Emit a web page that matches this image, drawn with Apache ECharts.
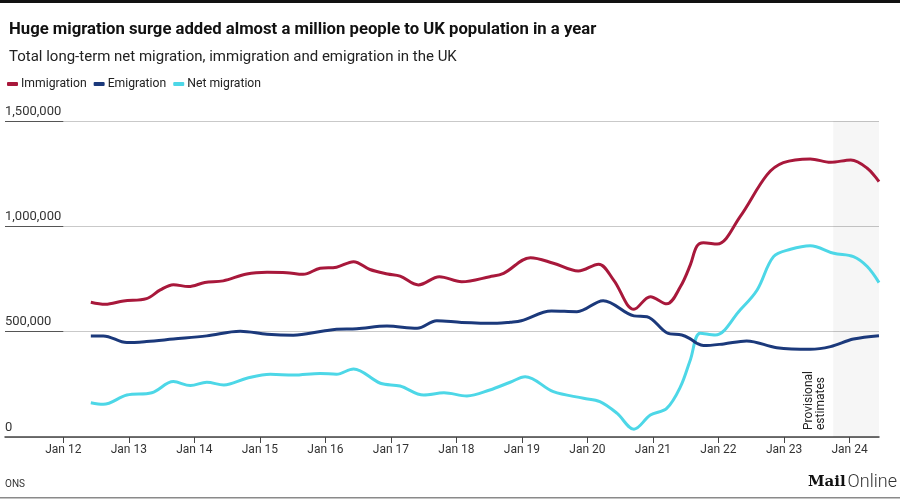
<!DOCTYPE html>
<html>
<head>
<meta charset="utf-8">
<script src="https://cdn.jsdelivr.net/npm/echarts@6/dist/echarts.min.js"></script>
<style>
  html, body { margin: 0; padding: 0; background: #fff; }
  #chart { width: 900px; height: 500px; }
</style>
</head>
<body>
<div id="chart"></div>
<script>
// ---- Data (values in thousands, x as decimal year) ----
const immigration = [
  [2012.42,640],[2012.64,630],[2012.92,646],[2013.27,657],[2013.48,698],[2013.68,723],[2013.91,714],
  [2014.16,733],[2014.44,741],[2014.80,774],[2015.11,782],[2015.41,780],[2015.66,772],[2015.92,801],
  [2016.17,806],[2016.43,832],[2016.68,795],[2016.95,774],[2017.14,764],[2017.42,722],[2017.74,761],
  [2018.08,737],[2018.51,761],[2018.72,777],[2019.13,851],[2019.48,825],[2019.86,788],[2020.17,820],
  [2020.40,745],[2020.71,606],[2020.96,666],[2021.21,632],[2021.42,714],[2021.57,817],[2021.67,905],
  [2021.77,922],[2021.98,916],[2022.33,1046],[2022.74,1244],[2022.99,1302],[2023.40,1320],[2023.71,1304],
  [2024.02,1315],[2024.27,1276],[2024.45,1212]
];
const emigration = [
  [2012.42,480],[2012.61,480],[2012.97,448],[2013.27,453],[2013.68,465],[2014.19,480],[2014.70,502],
  [2015.11,488],[2015.51,483],[2015.97,503],[2016.17,511],[2016.48,514],[2016.94,527],[2017.40,516],
  [2017.70,552],[2018.08,544],[2018.62,540],[2018.82,545],[2018.99,552],[2019.45,598],[2019.84,595],
  [2020.24,647],[2020.71,575],[2020.91,571],[2021.21,495],[2021.44,484],[2021.57,466],[2021.67,445],
  [2021.77,434],[2022.08,442],[2022.43,456],[2022.89,424],[2023.40,416],[2023.71,429],[2024.06,465],
  [2024.45,481]
];
const netMigration = [
  [2012.42,163],[2012.61,155],[2012.97,199],[2013.35,210],[2013.68,263],[2013.94,244],[2014.19,260],
  [2014.45,247],[2014.80,279],[2015.16,298],[2015.51,294],[2015.92,302],[2016.17,298],[2016.43,323],
  [2016.84,255],[2017.14,242],[2017.50,199],[2017.81,210],[2018.16,195],[2018.51,223],[2018.82,260],
  [2019.05,286],[2019.48,215],[2019.94,184],[2020.19,168],[2020.45,113],[2020.71,37],[2020.96,104],
  [2021.21,136],[2021.42,239],[2021.57,366],[2021.72,492],[2021.95,484],[2022.33,603],[2022.59,698],
  [2022.84,856],[2023.10,891],[2023.40,908],[2023.76,872],[2024.06,856],[2024.27,809],[2024.45,733]
];
const seriesNames = ['Immigration', 'Emigration', 'Net migration'];
const xTickYears = [2012,2013,2014,2015,2016,2017,2018,2019,2020,2021,2022,2023,2024];
const yTicks = [0, 500000, 1000000, 1500000];
const xMin = 2011.11, xMax = 2024.45;
const provisionalStart = 2023.75;

const colors = ['#a8183b', '#1b397b', '#4dd7e7'];
const toPairs = arr => arr.map(p => [p[0], p[1] * 1000]);
const fmt = v => v === 0 ? '0' : v.toLocaleString('en-GB');

const chart = echarts.init(document.getElementById('chart'), null, { renderer: 'canvas' });

const underline = yTicks.filter(v => v > 0).map(v => [
  { coord: [xMin, v] }, { coord: [xTickYears[0], v] }
]);

const option = {
  animation: false,
  backgroundColor: '#fff',
  textStyle: { fontFamily: 'Roboto' },
  title: [
    { text: 'Huge migration surge added almost a million people to UK population in a year',
      left: 4, top: 16,
      textStyle: { fontFamily: 'Roboto', fontSize: 16.7, fontWeight: 'bold', color: '#111' } },
    { text: 'Total long-term net migration, immigration and emigration in the UK',
      left: 4, top: 45,
      textStyle: { fontFamily: 'Roboto', fontSize: 15, fontWeight: 'normal', color: '#222' } }
  ],
  legend: {
    left: 2, top: 73,
    itemWidth: 11, itemHeight: 4, itemGap: 7,
    icon: 'roundRect',
    textStyle: { fontFamily: 'Roboto', fontSize: 12.2, color: '#222', padding: [0, 0, 0, -2] },
    data: seriesNames
  },
  grid: { left: 5, right: 21, top: 121, bottom: 63, containLabel: false },
  xAxis: {
    type: 'value', min: xMin, max: xMax,
    axisLine: { show: true, lineStyle: { color: '#444', width: 1.5 } },
    axisTick: { show: true, customValues: xTickYears, length: 6, lineStyle: { color: '#444', width: 1 } },
    axisLabel: { customValues: xTickYears, margin: 7, fontSize: 12, color: '#333', fontFamily: 'Roboto',
      formatter: v => 'Jan ' + String(Math.round(v)).slice(2) },
    splitLine: { show: false }
  },
  yAxis: {
    type: 'value', min: 0, max: 1500000, interval: 500000,
    axisLine: { show: false }, axisTick: { show: false },
    axisLabel: { inside: true, margin: 0, verticalAlign: 'bottom', align: 'left',
      padding: [0, 0, 3, 0], fontSize: 13, color: '#333', fontFamily: 'Roboto', formatter: fmt },
    splitLine: { show: true, lineStyle: { color: '#c9c9c9', width: 1 } }
  },
  series: [
    { name: seriesNames[0], type: 'line', data: toPairs(immigration), smooth: 0.35, showSymbol: false,
      lineStyle: { width: 3, color: colors[0] }, itemStyle: { color: colors[0] }, z: 4,
      markArea: { silent: true, itemStyle: { color: 'rgba(0,0,0,0.035)' },
        data: [[{ xAxis: provisionalStart, yAxis: 0 }, { xAxis: xMax, yAxis: 1500000 }]] },
      markLine: { silent: true, symbol: 'none', label: { show: false },
        lineStyle: { color: '#555', width: 1, type: 'solid' }, data: underline } },
    { name: seriesNames[1], type: 'line', data: toPairs(emigration), smooth: 0.35, showSymbol: false,
      lineStyle: { width: 3, color: colors[1] }, itemStyle: { color: colors[1] }, z: 3 },
    { name: seriesNames[2], type: 'line', data: toPairs(netMigration), smooth: 0.35, showSymbol: false,
      lineStyle: { width: 3, color: colors[2] }, itemStyle: { color: colors[2] }, z: 2 }
  ]
};
chart.setOption(option);

const p = chart.convertToPixel({ gridIndex: 0 }, [provisionalStart, 0]);
chart.setOption({
  graphic: [
    { type: 'rect', left: 0, top: 0, shape: { width: 900, height: 3 }, style: { fill: '#111' } },
    { type: 'rect', left: 0, top: 497, shape: { width: 900, height: 1.5 }, style: { fill: '#8a8a8a' } },
    { type: 'text', x: p[0] - 18, y: p[1] - 7, rotation: Math.PI / 2,
      style: { text: 'Provisional\nestimates', align: 'left', verticalAlign: 'middle',
        font: '12px Roboto', fill: '#222', lineHeight: 12.5 } },
    { type: 'text', x: 5, y: 484, style: { text: 'ONS', verticalAlign: 'middle', font: '10px Roboto', fill: '#333' } },
    { type: 'text', x: 897, y: 482, style: {
        text: '{a|Mail}{b|Online}', align: 'right', verticalAlign: 'middle',
        rich: {
          a: { fontFamily: 'DejaVu Serif', fontWeight: 'bold', fontSize: 15, fill: '#111', padding: [0, 2, 0, 0] },
          b: { fontFamily: 'Roboto', fontWeight: 300, fontSize: 18, fill: '#333' }
        } } }
  ]
});
</script>
</body>
</html>
